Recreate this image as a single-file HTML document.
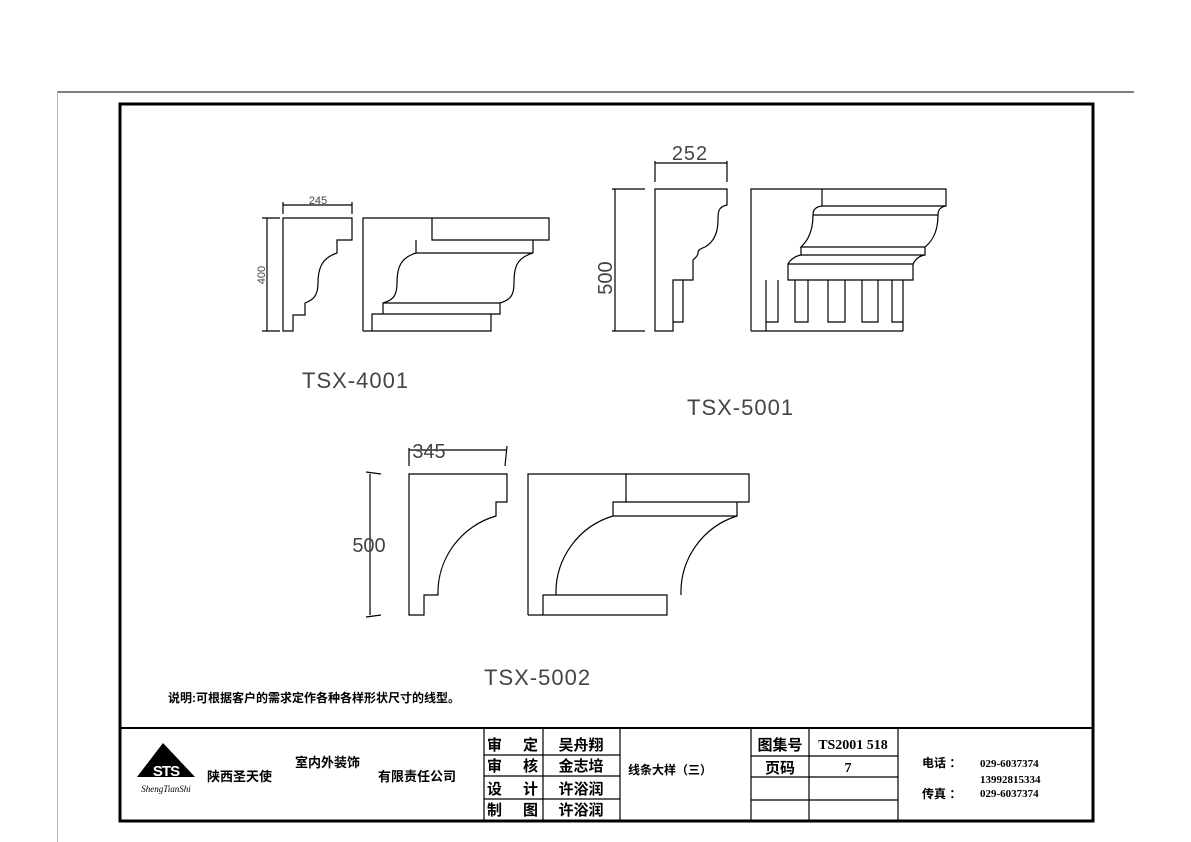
<!DOCTYPE html>
<html><head><meta charset="utf-8"><style>
html,body{margin:0;padding:0;background:#fff;}
svg{display:block;}
.t{font-family:"Liberation Sans","Noto Sans CJK SC",sans-serif;}
.c{font-family:"Liberation Sans","Noto Sans CJK SC",sans-serif;font-weight:bold;}
.n{font-family:"Liberation Serif",serif;font-weight:bold;}
</style></head><body>
<svg width="1191" height="842" viewBox="0 0 1191 842" xmlns="http://www.w3.org/2000/svg">
<rect width="1191" height="842" fill="#fff"/>
<line x1="57" y1="92" x2="1134" y2="92" stroke="#000" stroke-width="1"/>
<line x1="57.5" y1="92" x2="57.5" y2="842" stroke="#bbb" stroke-width="1"/>
<rect x="120" y="104" width="973" height="717" fill="none" stroke="#000" stroke-width="3"/>

<g fill="none" stroke="#000" stroke-width="1.2">
<!-- TSX-4001 -->
<line x1="267" y1="218" x2="267" y2="331"/>
<line x1="262" y1="218" x2="280" y2="218"/><line x1="262" y1="331" x2="280" y2="331"/>
<line x1="283" y1="205" x2="352" y2="205"/><line x1="283" y1="202" x2="283" y2="214"/><line x1="352" y1="202" x2="352" y2="214"/>
<path d="M283,218 H352 V240 H337 V253 C322,258 318,268 318,283 C318,296 313,300 305,303 V315 H293 V331 H283 Z"/>
<path d="M363,331 V218 H549 V240 H533 V253 M432,218 V240 H533 M416,240 V253 H533 C516,258 514,268 514,283 C514,296 510,300 500,303 V314 H491 V331 H372 V314 H500 M416,253 C400,258 397,268 397,283 C397,296 393,300 383,303 V314 M363,331 H372"/>
<line x1="383" y1="303" x2="500" y2="303"/>

<!-- TSX-5001 -->
<line x1="615" y1="189" x2="615" y2="331"/>
<line x1="612" y1="189" x2="645" y2="189"/><line x1="612" y1="331" x2="645" y2="331"/>
<line x1="655" y1="163" x2="727" y2="163"/><line x1="655" y1="161" x2="655" y2="182"/><line x1="727" y1="161" x2="727" y2="182"/>
<path d="M655,331 V189 H727 V205 C718,207 718,212 718,220 C718,235 712,243 705,247 C700,249 698,250 698,253 C698,256 695,258 693,260 V280 H673 V331 Z"/>
<path d="M683,280 V322 H673"/>
<path d="M751,331 V189 H946 V206 C940,207 938,210 938,215 C938,235 930,243 925,247 V255 C918,256 915,260 913,264 V280 H788 V264 H913 M822,189 V206 H946 M813,215 H938 M822,206 C815,207 813,210 813,215 C813,235 805,243 801,247 H925 M801,247 V255 H924 M801,255 C795,256 790,260 788,264"/>
<path d="M766,331 V280 M903,280 V331 M751,331 H903"/>
<path d="M766,322 H778 V280 M795,280 V322 H808 V280 M828,280 V322 H845 V280 M862,280 V322 H878 V280 M892,280 V322 H903"/>

<!-- TSX-5002 -->
<line x1="370" y1="474" x2="370" y2="615"/>
<line x1="366" y1="472" x2="381" y2="474"/><line x1="366" y1="617" x2="381" y2="615"/>
<line x1="409" y1="450" x2="507" y2="450"/><line x1="409" y1="448" x2="409" y2="466"/><line x1="507" y1="446" x2="505" y2="466"/>
<path d="M409,615 V474 H507 V502 H496 V516 A80,80 0 0 0 438,595 H424 V615 Z"/>
<path d="M528,615 V474 H749 V502 H737 V516 H613 V502 H737 M626,474 V502 M613,516 A80,80 0 0 0 556,595 M737,516 A80,80 0 0 0 681,595 M543,595 H667 V615 H543 Z M528,615 H543"/>
</g>

<g class="t" fill="#444">
<text x="318" y="204" font-size="11" text-anchor="middle">245</text>
<text x="265" y="275" font-size="11" text-anchor="middle" transform="rotate(-90 265 275)">400</text>
<text x="690" y="160" font-size="20" text-anchor="middle" letter-spacing="1">252</text>
<text x="612" y="278" font-size="20" text-anchor="middle" transform="rotate(-90 612 278)">500</text>
<text x="429" y="458" font-size="20" text-anchor="middle">345</text>
<text x="369" y="552" font-size="20" text-anchor="middle">500</text>
<text x="302" y="388" font-size="22" letter-spacing="1">TSX-4001</text>
<text x="687" y="415" font-size="22" letter-spacing="1">TSX-5001</text>
<text x="484" y="685" font-size="22" letter-spacing="1">TSX-5002</text>
</g>
<text class="c" x="168" y="702" font-size="12">说明:可根据客户的需求定作各种各样形状尺寸的线型。</text>

<!-- title block -->
<g fill="none" stroke="#000" stroke-width="1.2">
<line x1="120" y1="728" x2="1093" y2="728" stroke-width="2"/>
<line x1="484" y1="728" x2="484" y2="821"/>
<line x1="543" y1="728" x2="543" y2="821"/>
<line x1="620" y1="728" x2="620" y2="821"/>
<line x1="751" y1="728" x2="751" y2="821"/>
<line x1="809" y1="728" x2="809" y2="821"/>
<line x1="898" y1="728" x2="898" y2="821"/>
<line x1="484" y1="755" x2="620" y2="755"/>
<line x1="484" y1="776" x2="620" y2="776"/>
<line x1="484" y1="799" x2="620" y2="799"/>
<line x1="751" y1="756" x2="898" y2="756"/>
<line x1="751" y1="777" x2="898" y2="777"/>
<line x1="751" y1="800" x2="898" y2="800"/>
</g>
<polygon points="163,743 137,777 195,777" fill="#000"/>
<text x="166" y="776" font-family="Liberation Sans,sans-serif" font-weight="bold" font-size="15" fill="#fff" text-anchor="middle" letter-spacing="-1">STS</text>
<text x="166" y="792" font-family="Liberation Serif,serif" font-style="italic" font-size="9" fill="#000" text-anchor="middle">ShengTianShi</text>
<g class="c" fill="#000">
<text x="207" y="781" font-size="13">陕西圣天使</text>
<text x="295" y="767" font-size="13">室内外装饰</text>
<text x="378" y="781" font-size="13">有限责任公司</text>
<text x="487" y="750" font-size="15">审</text><text x="523" y="750" font-size="15">定</text>
<text x="487" y="771" font-size="15">审</text><text x="523" y="771" font-size="15">核</text>
<text x="487" y="794" font-size="15">设</text><text x="523" y="794" font-size="15">计</text>
<text x="487" y="815" font-size="15">制</text><text x="523" y="815" font-size="15">图</text>
<text x="581" y="750" font-size="15" text-anchor="middle">吴舟翔</text>
<text x="581" y="771" font-size="15" text-anchor="middle">金志培</text>
<text x="581" y="794" font-size="15" text-anchor="middle">许浴润</text>
<text x="581" y="815" font-size="15" text-anchor="middle">许浴润</text>
<text x="628" y="774" font-size="12">线条大样（三）</text>
<text x="780" y="750" font-size="15" text-anchor="middle">图集号</text>
<text x="780" y="773" font-size="15" text-anchor="middle">页码</text>
<text x="922" y="767" font-size="12">电话 ：</text>
<text x="922" y="798" font-size="12">传真 ：</text>
</g>
<g class="n" fill="#000">
<text x="853" y="749" font-size="14" text-anchor="middle">TS2001 518</text>
<text x="848" y="772" font-size="14" text-anchor="middle">7</text>
<text x="980" y="767" font-size="11">029-6037374</text>
<text x="980" y="783" font-size="11">13992815334</text>
<text x="980" y="797" font-size="11">029-6037374</text>
</g>
</svg>
</body></html>
